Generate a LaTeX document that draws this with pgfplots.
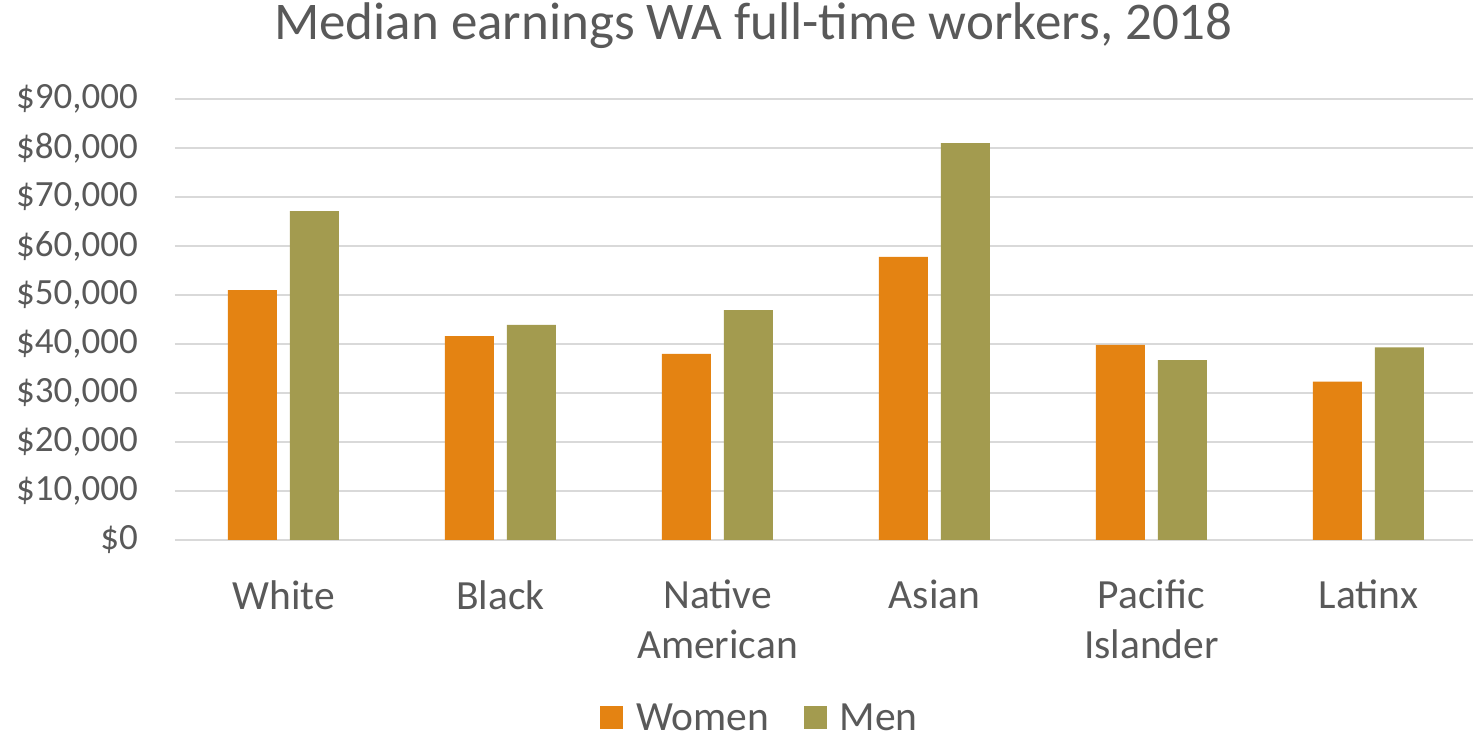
\documentclass[border=0pt]{standalone}
\usepackage{pgfplots}
\pgfplotsset{compat=1.18}
\usepackage{fontspec}
\setmainfont{Carlito}
\definecolor{women}{HTML}{E48312}
\definecolor{men}{HTML}{A39B4F}
\definecolor{txt}{HTML}{595959}
\definecolor{gridc}{HTML}{D9D9D9}
\begin{document}
\begin{tikzpicture}
\useasboundingbox (-175pt,-198pt) rectangle (1298pt,540pt);
\begin{axis}[
  scale only axis,
  width=1302pt, height=441pt,
  xmin=-0.5, xmax=5.5, ymin=0, ymax=90000,
  enlargelimits=false,
  scaled y ticks=false,
  ybar=13pt, bar width=49pt,
  axis line style={draw=none},
  major tick length=0pt,
  tick style={draw=none},
  ymajorgrids, grid style={gridc, line width=1.8pt},
  ytick={0,10000,20000,30000,40000,50000,60000,70000,80000,90000},
  yticklabels={{\$0},{\$10,000},{\$20,000},{\$30,000},{\$40,000},{\$50,000},{\$60,000},{\$70,000},{\$80,000},{\$90,000}},
  yticklabel style={font=\fontsize{37}{44}\selectfont, text=txt, anchor=east, inner sep=0pt, xshift=-37pt},
  xtick={0,1,2,3,4,5},
  xticklabels={White, Black, {Native\\American}, Asian, {Pacific\\Islander}, Latinx},
  xticklabel style={font=\fontsize{41.5}{50}\selectfont, text=txt, anchor=north, align=center, inner sep=0pt, yshift=-40pt},
  title={Median earnings WA full-time workers, 2018},
  title style={font=\fontsize{53}{64}\selectfont, text=txt, at={(0.4443,1)}, anchor=base, inner sep=0pt, yshift=54pt},
  legend columns=2,
  legend style={draw=none, font=\fontsize{41.5}{50}\selectfont, text=txt, at={(0.4485,-0.403)}, anchor=center,
    inner sep=0pt, nodes={inner sep=0pt},
    /tikz/every even column/.append style={column sep=35pt}},
  legend image code/.code={\fill[#1] (0pt,-11.5pt) rectangle (23pt,11.5pt); \path (36pt,0pt);},
]
\addplot[fill=women, draw=none] coordinates {(0,51000) (1,41600) (2,38000) (3,57800) (4,39800) (5,32300)};
\addplot[fill=men, draw=none] coordinates {(0,67100) (1,43900) (2,46900) (3,81000) (4,36700) (5,39300)};
\legend{Women, Men}
\end{axis}
\end{tikzpicture}
\end{document}
